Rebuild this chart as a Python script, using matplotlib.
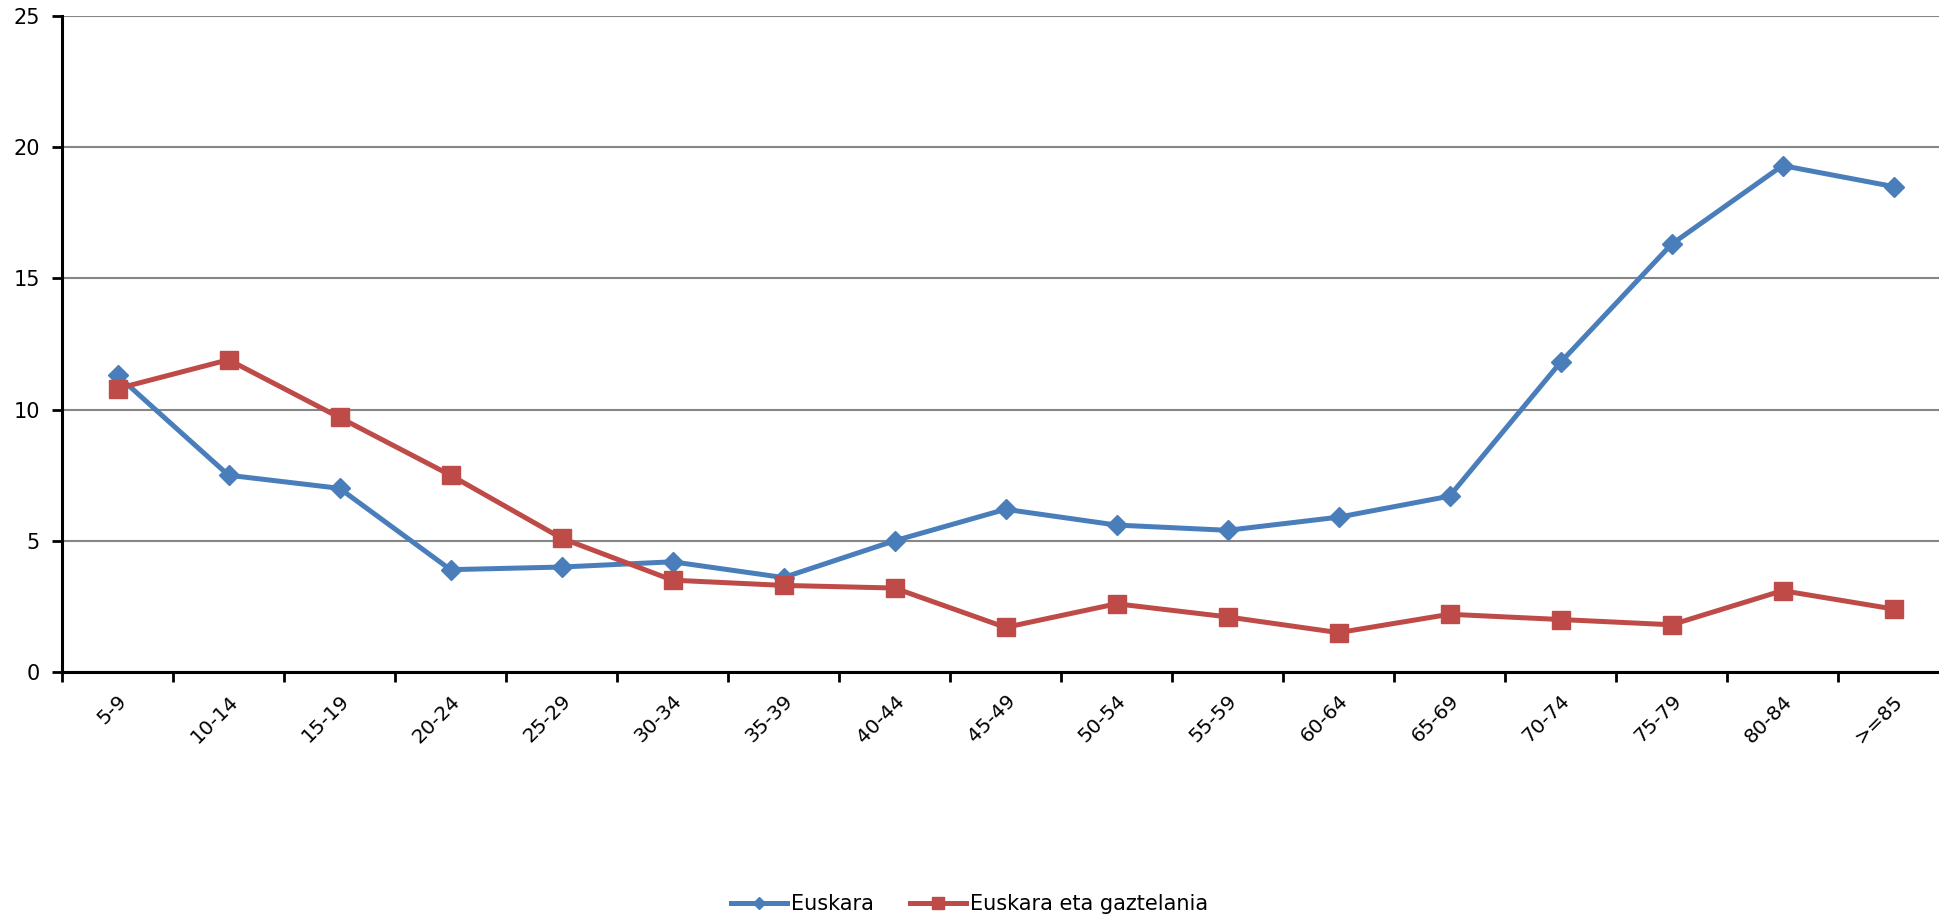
import numpy as np
import matplotlib
matplotlib.use('Agg')
import matplotlib.pyplot as plt
import matplotlib.transforms as mtrans

# adin taldeak eta bi serieak (%)
taldeak = ['5-9', '10-14', '15-19', '20-24', '25-29', '30-34', '35-39', '40-44',
           '45-49', '50-54', '55-59', '60-64', '65-69', '70-74', '75-79', '80-84', '>=85']
euskara = [11.3, 7.5, 7.0, 3.9, 4.0, 4.2, 3.6, 5.0, 6.2, 5.6, 5.4, 5.9, 6.7, 11.8, 16.3, 19.3, 18.5]
biak = [10.8, 11.9, 9.7, 7.5, 5.1, 3.5, 3.3, 3.2, 1.7, 2.6, 2.1, 1.5, 2.2, 2.0, 1.8, 3.1, 2.4]
y_ticks = [0, 5, 10, 15, 20, 25]

plt.rcParams['font.family'] = ['DejaVu Sans']

fig = plt.figure(figsize=(19.39, 9.17), dpi=100)
ax = fig.add_axes([62/1939, 1-672/917, 1887/1939, 656/917])

x = np.arange(len(taldeak))
ax.plot(x, euskara, color='#4A7EBB', linewidth=3.6, marker='D', markersize=10,
        label='Euskara', zorder=3)
ax.plot(x, biak, color='#BE4B48', linewidth=3.6, marker='s', markersize=13.5,
        label='Euskara eta gaztelania', zorder=3)

ax.set_xlim(-0.5, len(taldeak) - 0.5)
ax.set_ylim(0, 25)
ax.set_yticks(y_ticks)
ax.yaxis.grid(True, color='#868686', linewidth=1.5)
ax.set_axisbelow(True)

# marrak kategorien artean, etiketak erdian
ax.set_xticks(np.arange(-0.5, len(taldeak), 1))
ax.set_xticklabels([])
ax.set_xticks(x, minor=True)
ax.set_xticklabels(taldeak, minor=True, rotation=45, ha='right', va='top',
                   rotation_mode='anchor', fontsize=14.5)
shift = mtrans.ScaledTranslation(-7/100, 0, fig.dpi_scale_trans)
for lbl in ax.get_xticklabels(minor=True):
    lbl.set_transform(lbl.get_transform() + shift)
ax.tick_params(axis='x', which='minor', length=0, pad=14)
ax.tick_params(axis='x', which='major', length=7, width=2, direction='out')
ax.tick_params(axis='y', which='major', length=7, width=2, direction='out',
               labelsize=15, pad=9)

for side in ['top', 'right']:
    ax.spines[side].set_visible(False)
for side in ['left', 'bottom']:
    ax.spines[side].set_linewidth(2.2)

fig.legend(loc='center', bbox_to_anchor=(0.5, 0.0142), ncol=2, frameon=False,
           fontsize=15, handlelength=2.7, columnspacing=1.7, handletextpad=0.2,
           markerscale=0.6)

fig.savefig('out.png', dpi=100)
